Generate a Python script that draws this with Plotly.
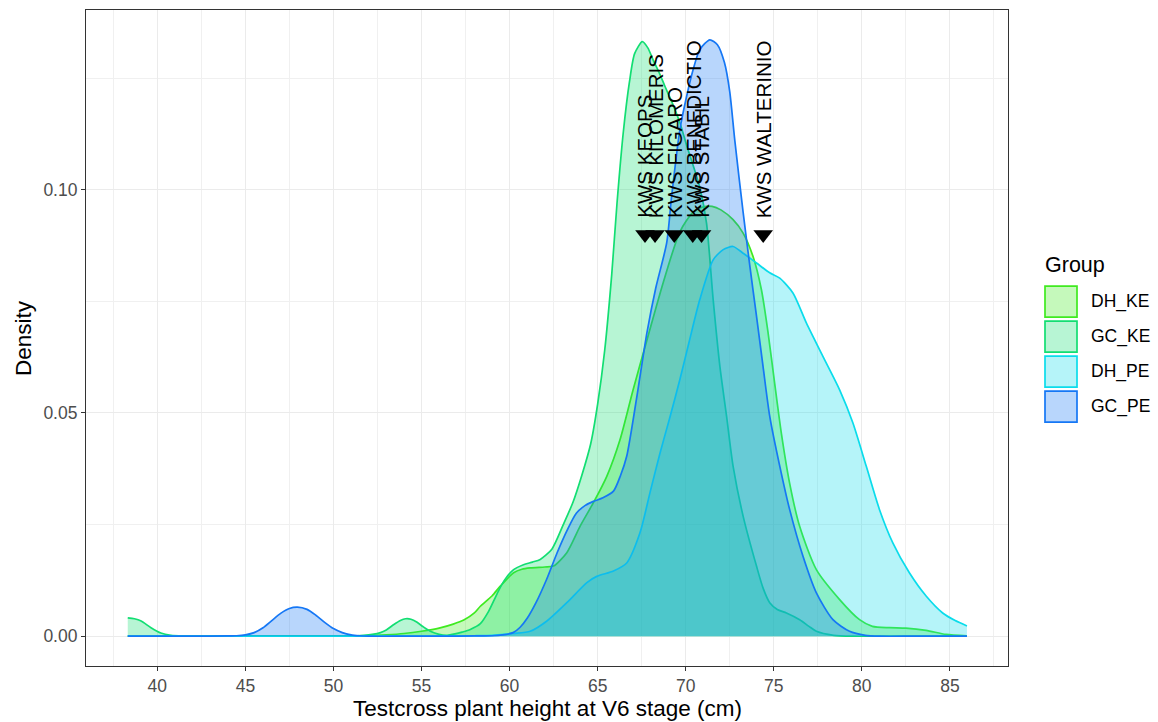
import plotly.graph_objects as go

# ---- data -------------------------------------------------------------
groups = ["DH_KE", "GC_KE", "DH_PE", "GC_PE"]
line_colors = ["#3FEA1F", "#12DE72", "#0ADCEB", "#1577F5"]
fill_colors = ["rgba(63,234,31,0.3)", "rgba(18,222,114,0.3)",
               "rgba(10,220,235,0.3)", "rgba(21,119,245,0.3)"]

dh_ke_x = [38.32, 45, 50, 52, 53, 54, 55, 56, 56.8, 57.4, 58.0, 58.34, 59.0, 59.47,
           60.23, 60.7, 61.17, 62.0, 62.49, 63.25, 64.0, 64.76, 65.52, 66.27, 67.0,
           67.79, 68.73, 69.67, 70.42, 71.0, 71.5, 72.0, 72.69, 73.26, 73.82, 74.3,
           74.68, 75.05, 75.43, 75.9, 76.47, 77.42, 78.74, 79.87, 80.6, 81.57, 82.5,
           83.65, 84.78, 85.97]
dh_ke_y = [0, 0, 0, 0.0001, 0.0003, 0.0006, 0.0011, 0.0018, 0.0027, 0.0036, 0.0052,
           0.0067, 0.009, 0.0112, 0.0142, 0.015, 0.0153, 0.0155, 0.0157, 0.0187,
           0.0246, 0.0299, 0.0358, 0.044, 0.055, 0.0662, 0.0793, 0.0906, 0.095,
           0.0962, 0.0963, 0.0955, 0.0933, 0.0903, 0.0851, 0.0776, 0.0679, 0.0567,
           0.0455, 0.0343, 0.0246, 0.0149, 0.0082, 0.0037, 0.0022, 0.0019, 0.0018,
           0.0013, 0.0004, 0.0001]

gc_ke_x = [38.32, 38.7, 39.08, 39.64, 40.2, 40.77, 41.5, 42.5, 44, 46, 48, 50, 51.0,
           51.7, 52.2, 52.67, 53.0, 53.43, 53.8, 54.09, 54.4, 54.75, 55.1, 55.5, 56.0,
           56.45, 56.9, 57.3, 57.77, 58.34, 58.8, 59.29, 59.7, 60.23, 60.79, 61.3,
           61.74, 62.4, 63.05, 63.6, 64.1, 64.6, 65.0, 65.4, 65.8, 66.1, 66.46, 66.8,
           67.1, 67.54, 67.85, 68.16, 68.5, 68.82, 69.2, 69.67, 70.05, 70.42, 70.8,
           71.18, 71.56, 71.94, 72.32, 72.69, 73.26, 74.02, 74.4, 74.77, 75.2, 75.72,
           76.47, 77.0, 77.42, 78.4, 79.5, 81, 83, 85.97]
gc_ke_y = [0.0041, 0.0039, 0.0034, 0.0019, 0.0007, 0.0002, 0.00005, 0, 0, 0, 0, 0,
           0.00005, 0.0002, 0.0004, 0.0008, 0.0014, 0.0026, 0.0035, 0.0039, 0.0038,
           0.0031, 0.0021, 0.0011, 0.0004, 0.0002, 0.0005, 0.0009, 0.0015, 0.0028,
           0.0055, 0.0095, 0.0125, 0.0149, 0.016, 0.0166, 0.0172, 0.0195, 0.025, 0.03,
           0.036, 0.043, 0.052, 0.064, 0.081, 0.097, 0.113, 0.124, 0.1305, 0.1332,
           0.1318, 0.129, 0.1262, 0.1232, 0.1198, 0.115, 0.11, 0.1055, 0.1005, 0.0926,
           0.0754, 0.0605, 0.0493, 0.0381, 0.0269, 0.0157, 0.0107, 0.0075, 0.006,
           0.0052, 0.0037, 0.0022, 0.0011, 0.0002, 0, 0, 0, 0]

dh_pe_x = [38.32, 50, 56, 58, 59, 60.23, 61.17, 62.12, 63.25, 64.39, 64.95, 65.9, 66.65,
           67.4, 67.97, 68.54, 69.1, 69.67, 70.2, 70.8, 71.56, 72.13, 72.69, 73.26,
           74.02, 74.77, 75.34, 76.09, 76.85, 77.79, 78.74, 79.49, 80.25, 81.0, 81.76,
           82.7, 83.65, 84.59, 85.3, 85.97]
dh_pe_y = [0, 0, 0, 0.0001, 0.0002, 0.0006, 0.0011, 0.0034, 0.0075, 0.012, 0.0134,
           0.0146, 0.0164, 0.0231, 0.0321, 0.041, 0.049, 0.0575, 0.066, 0.0754, 0.0843,
           0.0866, 0.0873, 0.0858, 0.0836, 0.0814, 0.0802, 0.0769, 0.0702, 0.0627,
           0.0552, 0.0478, 0.0381, 0.0284, 0.0209, 0.0142, 0.009, 0.0052, 0.0035,
           0.0023]

gc_pe_x = [38.32, 40, 42, 44, 44.5, 45, 45.5, 46, 46.5, 47, 47.5, 47.95, 48.5, 49, 49.5,
           50, 50.5, 51, 51.5, 52, 54, 56, 58, 59, 59.6, 60.2, 60.6, 61.0, 61.5, 62.1,
           62.7, 63.3, 63.8, 64.3, 64.76, 65.3, 65.9, 66.3, 66.65, 67.2, 67.8, 68.3,
           68.92, 69.2, 69.67, 70.05, 70.42, 70.8, 71.37, 71.8, 72.2, 72.5, 72.79,
           73.26, 73.64, 74.02, 74.39, 74.77, 75.34, 75.9, 76.66, 77.42, 78.36, 79.3,
           80.2, 81, 83, 85.97]
gc_pe_y = [0, 0, 0, 0.00005, 0.0001, 0.0003, 0.0008, 0.0019, 0.0035, 0.0051, 0.0062,
           0.0065, 0.006, 0.0047, 0.0031, 0.0017, 0.0008, 0.0003, 0.0001, 0, 0, 0,
           0.00005, 0.0001, 0.0003, 0.0008, 0.002, 0.004, 0.0075, 0.0127, 0.0187,
           0.024, 0.0276, 0.0293, 0.0302, 0.031, 0.0325, 0.036, 0.0403, 0.053, 0.068,
           0.078, 0.0881, 0.0985, 0.1135, 0.1209, 0.1269, 0.1314, 0.1336, 0.1325,
           0.1285, 0.122, 0.111, 0.095, 0.083, 0.0717, 0.0605, 0.0493, 0.0381, 0.0284,
           0.0179, 0.0097, 0.0037, 0.0011, 0.0002, 0, 0, 0]

curves_x = [dh_ke_x, gc_ke_x, dh_pe_x, gc_pe_x]
curves_y = [dh_ke_y, gc_ke_y, dh_pe_y, gc_pe_y]

# reference cultivars and their testcross heights
cultivars = ["KWS KEOPS", "KWS KILOMERIS", "KWS FIGARO", "KWS BENEDICTIO",
             "KWS STABIL", "KWS WALTERINIO"]
cultivar_height = [67.69, 68.26, 69.35, 70.4, 70.9, 74.4]
marker_level = 0.09
label_level = 0.0932

x_ticks = [40, 45, 50, 55, 60, 65, 70, 75, 80, 85]
y_ticks = [0.0, 0.05, 0.10]
y_tick_text = ["0.00", "0.05", "0.10"]

# ---- figure -----------------------------------------------------------
FONT = "Liberation Sans, Arial, sans-serif"
W, H = 1158, 722
L, R, T, B = 86, 150, 10, 56
PW, PH = W - L - R, H - T - B


def px_x(px):
    return (px - L) / PW


def px_y(py):
    return (H - B - py) / PH


fig = go.Figure()
for name, xs, ys, lc, fc in zip(groups, curves_x, curves_y, line_colors, fill_colors):
    fig.add_trace(go.Scatter(
        x=xs, y=ys, name=name, mode="lines", fill="tozeroy", fillcolor=fc,
        line=dict(color=lc, width=1.7, shape="spline", smoothing=0.7),
        showlegend=False, hoverinfo="skip"))

fig.add_trace(go.Scatter(
    x=cultivar_height, y=[marker_level] * len(cultivar_height), mode="markers",
    marker=dict(symbol="triangle-down", size=17, color="black"),
    showlegend=False, hoverinfo="skip"))

annotations = []
for name, h in zip(cultivars, cultivar_height):
    annotations.append(dict(
        x=h, y=label_level, xref="x", yref="y", text=name, showarrow=False,
        textangle=-90, xanchor="center", yanchor="bottom",
        font=dict(family=FONT, size=20.5, color="black")))

# axis titles
annotations.append(dict(
    x=0.5, y=px_y(709), xref="paper", yref="paper", showarrow=False,
    text="Testcross plant height at V6 stage (cm)", xanchor="center", yanchor="middle",
    font=dict(family=FONT, size=22.5, color="black")))
annotations.append(dict(
    x=px_x(23), y=0.5, xref="paper", yref="paper", showarrow=False, text="Density",
    textangle=-90, xanchor="center", yanchor="middle",
    font=dict(family=FONT, size=22.5, color="black")))

# legend: title, keys and labels
shapes = []
annotations.append(dict(
    x=px_x(1043), y=px_y(265), xref="paper", yref="paper", showarrow=False,
    text="Group", xanchor="left", yanchor="middle",
    font=dict(family=FONT, size=21.5, color="black")))
for i, (name, lc, fc) in enumerate(zip(groups, line_colors, fill_colors)):
    cy = 301.7 + 35 * i
    shapes.append(dict(
        type="rect", xref="paper", yref="paper",
        x0=px_x(1045), x1=px_x(1077), y0=px_y(cy + 15.5), y1=px_y(cy - 15.5),
        fillcolor=fc, line=dict(color=lc, width=1.7)))
    annotations.append(dict(
        x=px_x(1089), y=px_y(cy), xref="paper", yref="paper", showarrow=False,
        text=name, xanchor="left", yanchor="middle",
        font=dict(family=FONT, size=17.5, color="black")))

axis_common = dict(
    showline=True, mirror=True, linecolor="#333333", linewidth=1.1,
    ticks="outside", ticklen=4, tickwidth=1.1, tickcolor="#333333",
    showgrid=True, gridcolor="#EBEBEB", gridwidth=1.3, zeroline=False,
    tickfont=dict(family=FONT, size=17.5, color="#4D4D4D"))

fig.update_xaxes(
    range=[35.95, 88.3], tickvals=x_ticks,
    minor=dict(tickvals=[37.5 + 5 * k for k in range(11)], showgrid=True,
               gridcolor="#F0F0F0", gridwidth=0.9, ticks=""),
    **axis_common)
fig.update_yaxes(
    range=[-0.00668, 0.14028], tickvals=y_ticks, ticktext=y_tick_text,
    minor=dict(tickvals=[0.025, 0.075, 0.125], showgrid=True,
               gridcolor="#F0F0F0", gridwidth=0.9, ticks=""),
    **axis_common)

fig.update_layout(
    width=W, height=H, margin=dict(l=L, r=R, t=T, b=B),
    paper_bgcolor="white", plot_bgcolor="white",
    font=dict(family=FONT), annotations=annotations, shapes=shapes,
    showlegend=False)

fig.write_html("out.html")
